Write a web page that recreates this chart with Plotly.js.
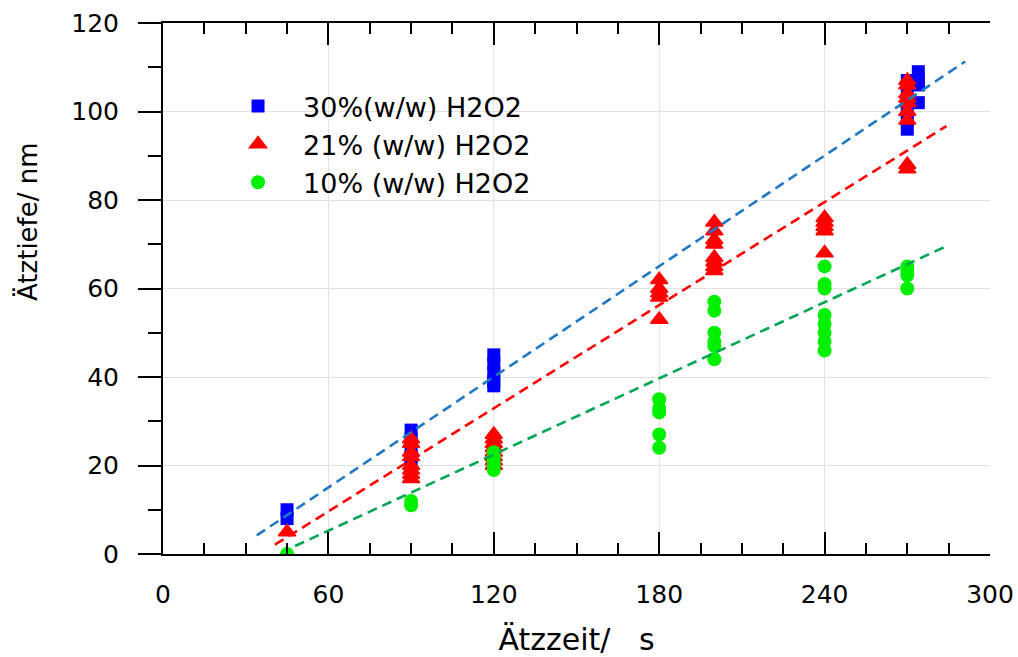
<!DOCTYPE html>
<html>
<head>
<meta charset="utf-8">
<script src="https://cdn.plot.ly/plotly-3.0.1.min.js"></script>
<style>html,body{margin:0;padding:0;background:#fff;}</style>
</head>
<body>
<div id="chart" style="width:1018px;height:657px;"></div>
<script>
// ---- data ----
const seriesNames = ["30%(w/w) H2O2", "21% (w/w) H2O2", "10% (w/w) H2O2"];

const x30 = [45, 45, 90, 90, 90, 90, 90, 120, 120, 120, 120, 120, 270, 270, 270, 270, 270, 270, 274, 274, 274, 274];
const y30 = [8, 10, 20, 22, 24, 26, 28, 38, 39, 41, 43, 45, 96, 98, 100, 102, 104, 107, 102, 106, 107, 109];

const x21 = [45, 90, 90, 90, 90, 90, 90, 90, 90, 120, 120, 120, 120, 120, 120, 120, 120, 180, 180, 180, 180, 180, 200, 200, 200, 200, 200, 200, 200, 200, 240, 240, 240, 240, 240, 270, 270, 270, 270, 270, 270, 270, 270, 270];
const y21 = [5, 17, 18, 19, 20, 22, 23, 25, 26, 20, 21, 22, 23, 24, 25, 26, 27, 53, 58, 59, 60, 62, 64, 65, 66, 67, 70, 71, 73, 75, 68, 73, 74, 75, 76, 87, 88, 98, 100, 102, 103, 104, 106, 107];

const x10 = [45, 90, 90, 120, 120, 120, 120, 120, 180, 180, 180, 180, 180, 200, 200, 200, 200, 200, 200, 240, 240, 240, 240, 240, 240, 240, 240, 270, 270, 270, 270];
const y10 = [0, 11, 12, 19, 20, 21, 22, 23, 24, 27, 32, 33, 35, 44, 47, 48, 50, 55, 57, 46, 48, 50, 52, 54, 60, 61, 65, 60, 63, 64, 65];

// dashed fit lines (end points)
const fitX30 = [34, 291];
const fitY30 = [4.2, 111.3];
const fitX21 = [40.6, 284.2];
const fitY21 = [2.1, 96.7];
const fitX10 = [47.9, 283.6];
const fitY10 = [1.8, 69.4];

const xTickVals = [0, 60, 120, 180, 240, 300];
const yTickVals = [0, 20, 40, 60, 80, 100, 120];

const FONT = "DejaVu Sans, Liberation Sans, Arial, sans-serif";

const traces = [
  {x: x30, y: y30, type: "scatter", mode: "markers", name: seriesNames[0],
   marker: {symbol: "square", size: 13, color: "#0000ff"}},
  {x: x21, y: y21, type: "scatter", mode: "markers", name: seriesNames[1],
   marker: {symbol: "triangle-up", size: 15, color: "#ff0000", line: {color: "#ff0000", width: 1.5}}},
  {x: x10, y: y10, type: "scatter", mode: "markers", name: seriesNames[2],
   marker: {symbol: "circle", size: 14, color: "#00f000"}},
  {x: fitX30, y: fitY30, type: "scatter", mode: "lines", showlegend: false, hoverinfo: "skip",
   line: {color: "#1f78c4", width: 2.6, dash: "10px,6px"}},
  {x: fitX21, y: fitY21, type: "scatter", mode: "lines", showlegend: false, hoverinfo: "skip",
   line: {color: "#ff0000", width: 2.6, dash: "10px,6px"}},
  {x: fitX10, y: fitY10, type: "scatter", mode: "lines", showlegend: false, hoverinfo: "skip",
   line: {color: "#00a651", width: 2.6, dash: "10px,6px"}}
];

const layout = {
  width: 1018, height: 657,
  margin: {l: 163, r: 28, t: 23, b: 103, pad: 0},
  paper_bgcolor: "#ffffff", plot_bgcolor: "#ffffff",
  font: {family: FONT, color: "#000000"},
  showlegend: true,
  legend: {
    x: 0.0605, y: 0.889, xanchor: "left", yanchor: "top",
    bgcolor: "rgba(0,0,0,0)", borderwidth: 0,
    font: {family: FONT, size: 27, color: "#000"},
    itemwidth: 80, tracegroupgap: 0
  },
  xaxis: {
    range: [0, 300], tickvals: xTickVals, ticktext: xTickVals.map(String),
    ticks: "inside", ticklen: 22, tickwidth: 2, tickcolor: "#000",
    showline: true, linewidth: 2, linecolor: "#000", mirror: "allticks",
    showgrid: true, gridcolor: "#e2e2e2", gridwidth: 1, zeroline: false,
    minor: {dtick: 15, tick0: 0, ticks: "inside", ticklen: 11, tickwidth: 2, tickcolor: "#000", showgrid: false},
    tickfont: {family: FONT, size: 25, color: "#000"},
    ticklabelstandoff: 17,
    title: {text: "Ätzzeit/\u00a0\u00a0\u00a0s", font: {family: FONT, size: 30, color: "#000"}, standoff: 21}
  },
  yaxis: {
    range: [0, 120], tickvals: yTickVals, ticktext: yTickVals.map(String),
    ticks: "outside", ticklen: 23, tickwidth: 2, tickcolor: "#000",
    showline: true, linewidth: 2, linecolor: "#000", mirror: false,
    showgrid: true, gridcolor: "#e2e2e2", gridwidth: 1, zeroline: false,
    minor: {dtick: 10, tick0: 0, ticks: "outside", ticklen: 13, tickwidth: 2, tickcolor: "#000", showgrid: false},
    tickfont: {family: FONT, size: 25, color: "#000"},
    ticklabelstandoff: 14
  },
  yaxis2: {
    overlaying: "y", side: "right", range: [0, 120], tickvals: yTickVals,
    showticklabels: false, ticks: "inside", ticklen: 23, tickwidth: 2, tickcolor: "#000",
    showline: true, linewidth: 2, linecolor: "#000", showgrid: false, zeroline: false,
    minor: {dtick: 10, tick0: 0, ticks: "inside", ticklen: 12, tickwidth: 2, tickcolor: "#000", showgrid: false}
  },
  annotations: [{
    text: "Ätztiefe/ nm", xref: "paper", yref: "paper",
    x: -0.164, y: 0.626, xanchor: "center", yanchor: "middle",
    textangle: -90, showarrow: false,
    font: {family: FONT, size: 26, color: "#000"}
  }]
};

Plotly.newPlot("chart", traces, layout, {displayModeBar: false, staticPlot: true});
</script>
</body>
</html>
